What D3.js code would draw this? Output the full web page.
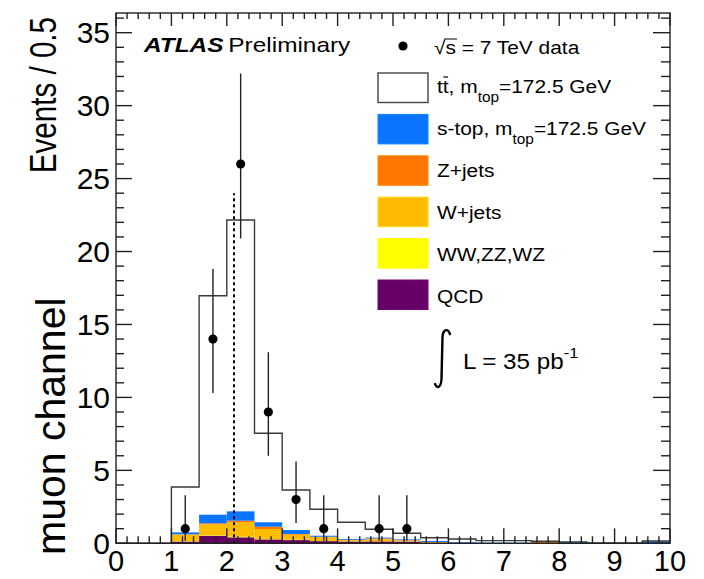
<!DOCTYPE html>
<html><head><meta charset="utf-8">
<script src="https://cdn.jsdelivr.net/npm/d3@7"></script>
<style>html,body{margin:0;padding:0;background:#fff;} text{font-family:"Liberation Sans",Arial,Helvetica,sans-serif;fill:#000;}</style>
</head><body><svg id="c" width="704" height="579"></svg>
<script>
// ---- data ----
const binEdges = d3.range(0, 10.01, 0.5);          // 21 edges, 20 bins
const qcd   = [0,0,0.12,0.52,0.41,0.27,0.22,0.15,0.12,0.13,0.12,0.03,0.01,0.02,0.02,0,0,0,0,0];
const dib   = [0,0,0.02,0.04,0.04,0.03,0.02,0.01,0.01,0.01,0.01,0,0,0,0,0,0,0,0,0];
const wjets = [0,0,0.45,0.74,1.01,0.68,0.35,0.26,0.09,0.13,0.07,0.04,0.02,0,0,0,0,0,0,0];
const zjets = [0,0,0.03,0.07,0.09,0.16,0.05,0.03,0.02,0.07,0.02,0.02,0,0,0,0.13,0,0,0,0];
const stop  = [0,0,0.13,0.59,0.64,0.30,0.27,0.07,0.06,0.05,0.05,0.07,0.05,0.02,0.02,0,0.09,0,0,0.13];
const ttbar = [0,0,3.11,15.01,19.97,6.10,2.74,1.81,1.14,0.57,0.42,0.22,0.21,0.14,0.14,0.01,0.01,0.02,0.02,0.03];
const dataX  = [1.25,1.75,2.25,2.75,3.25,3.75,4.75,5.25];
const dataY  = [1,14,26,9,3,1,1,1];
const errLo  = [0.83,3.7,5.1,3.0,1.6,0.83,0.83,0.83];
const errHi  = [2.3,4.8,6.2,4.1,2.6,2.3,2.3,2.3];
const mtopLine = {x:2.13, top:24};
const xTicks = [0,1,2,3,4,5,6,7,8,9,10];
const yTicks = [0,5,10,15,20,25,30,35];
const seriesKeys = ["qcd","dib","wjets","zjets","stop","ttbar"];
const seriesColors = {qcd:"#660066", dib:"#ffff00", wjets:"#ffbb00", zjets:"#ff7700", stop:"#0a74ff", ttbar:"#ffffff"};

// ---- layout ----
const X0=116, X1=670, Y0=13, Y1=543.3;
const svg = d3.select("#c");
const x = d3.scaleLinear().domain([0,10]).range([X0,X1]);
const y = d3.scaleLinear().domain([0,36.35]).range([Y1,Y0]);

const table = d3.range(20).map(i => ({i, x0:binEdges[i], x1:binEdges[i+1],
  qcd:qcd[i], dib:dib[i], wjets:wjets[i], zjets:zjets[i], stop:stop[i], ttbar:ttbar[i]}));
const stacked = d3.stack().keys(seriesKeys)(table);

const plot = svg.append("g");
stacked.forEach(layer => {
  if (layer.key === "ttbar") return;
  plot.append("g").selectAll("rect").data(layer.filter(d => d[1]-d[0] > 0)).join("rect")
    .attr("x", d => x(d.data.x0)).attr("width", d => x(d.data.x1)-x(d.data.x0))
    .attr("y", d => y(d[1])).attr("height", d => y(d[0])-y(d[1]))
    .attr("fill", seriesColors[layer.key]);
});
// total outline (step)
const totals = table.map(d => seriesKeys.reduce((s,k)=>s+d[k],0));
const stepPts = table.map((d,i)=>[d.x0, totals[i]]).concat([[10, totals[19]]]);
plot.append("path").attr("d", d3.line().x(d=>x(d[0])).y(d=>y(d[1])).curve(d3.curveStepAfter)([[0,0]].concat(stepPts)))
  .attr("fill","none").attr("stroke","#3a3a3a").attr("stroke-width",1.4);

// dashed m_top line
plot.append("line").attr("x1",x(mtopLine.x)).attr("x2",x(mtopLine.x)).attr("y1",y(0)).attr("y2",y(mtopLine.top))
  .attr("stroke","#000").attr("stroke-width",2).attr("stroke-dasharray","3,3");

// data
const dg = plot.append("g");
dataX.forEach((dx,i)=>{
  dg.append("line").attr("x1",x(dx)).attr("x2",x(dx)).attr("y1",y(dataY[i]-errLo[i])).attr("y2",y(dataY[i]+errHi[i]))
    .attr("stroke","#222").attr("stroke-width",1.4);
});
dg.selectAll("circle").data(dataX).join("circle").attr("cx",d=>x(d)).attr("cy",(d,i)=>y(dataY[i])).attr("r",4.6).attr("fill","#000");

// ---- frame & ticks ----
const ax = svg.append("g").attr("stroke","#222").attr("stroke-width",1.4);
ax.append("rect").attr("x",X0).attr("y",Y0).attr("width",X1-X0).attr("height",Y1-Y0).attr("fill","none");
d3.range(0,10.001,0.2).forEach(v=>{
  const major = Math.abs(v-Math.round(v))<1e-6;
  ax.append("line").attr("x1",x(v)).attr("x2",x(v)).attr("y1",Y1).attr("y2",Y1-(major?15:7));
  ax.append("line").attr("x1",x(v)).attr("x2",x(v)).attr("y1",Y0).attr("y2",Y0+(major?13:6));
});
d3.range(0,36.001,1).forEach(v=>{
  const major = v%5===0;
  ax.append("line").attr("x1",X0).attr("x2",X0+(major?16:8)).attr("y1",y(v)).attr("y2",y(v));
  ax.append("line").attr("x1",X1).attr("x2",X1-(major?17:9)).attr("y1",y(v)).attr("y2",y(v));
});
const lab = svg.append("g").style("font-size","29px");
xTicks.forEach(v=>{
  lab.append("text").attr("x",x(v)).attr("y",571).attr("text-anchor","middle").text(v);
});
yTicks.forEach(v=>{
  lab.append("text").attr("x",110).attr("y",y(v)).attr("dy","0.36em").attr("text-anchor","end").style("font-size","30px").text(v);
});

// axis titles
svg.append("g").attr("transform",`translate(56,17) rotate(-90) scale(1.02,1.25)`)
  .append("text").attr("text-anchor","end").style("font-size","29px").text("Events / 0.5");
svg.append("g").attr("transform",`translate(65,555) rotate(-90)`)
  .append("text").attr("text-anchor","start").style("font-size","41px").text("muon channel");

// ---- annotations ----
function htext(x0,y0,size,sx){
  return svg.append("g").attr("transform",`translate(${x0},${y0}) scale(${sx},1)`)
    .append("text").style("font-size",size+"px");
}
const atl = htext(144,52,20,1.22);
atl.append("tspan").style("font-weight","bold").style("font-style","italic").text("ATLAS");
atl.append("tspan").attr("dx","4").text("Preliminary");

// legend
const LX=378, LW=50, LH=29.5, TX=437, S=1.1;
svg.append("circle").attr("cx",403).attr("cy",46).attr("r",4.6).attr("fill","#000");
const dtx = htext(TX-3,54,19,S).text("√s = 7 TeV data");
{ const n = dtx.node(); const a = n.getStartPositionOfChar(1), b = n.getEndPositionOfChar(1);
  d3.select(n.parentNode).append("line").attr("x1",a.x-1).attr("x2",b.x+1).attr("y1",-15).attr("y2",-15).attr("stroke","#000").attr("stroke-width",1); }
const legendRows = [
  {key:"ttbar", lab:["tt, m","top","=172.5 GeV"]},
  {key:"stop",  lab:["s-top, m","top","=172.5 GeV"]},
  {key:"zjets", lab:["Z+jets"]},
  {key:"wjets", lab:["W+jets"]},
  {key:"dib",   lab:["WW,ZZ,WZ"]},
  {key:"qcd",   lab:["QCD"]}
];
legendRows.forEach((r,i)=>{
  const top = 73 + i*41.4;
  svg.append("rect").attr("x",LX).attr("y",top).attr("width",LW).attr("height",LH)
    .attr("fill",seriesColors[r.key])
    .attr("stroke", r.key==="ttbar" ? "#444" : d3.color(seriesColors[r.key]).brighter(0.4))
    .attr("stroke-width", r.key==="ttbar"?1.4:1);
  const t = htext(TX, 93 + i*42, 19, S);
  t.append("tspan").text(r.lab[0]);
  if (r.lab.length>1){
    t.append("tspan").attr("dy",9).style("font-size","14px").text(r.lab[1]);
    t.append("tspan").attr("dy",-9).text(r.lab[2]);
  }
  if (r.key==="ttbar"){
    const n=t.node(); const a=n.getStartPositionOfChar(1), b=n.getEndPositionOfChar(1);
    d3.select(n.parentNode).append("line").attr("x1",a.x+0.5).attr("x2",b.x-0.5).attr("y1",-16).attr("y2",-16).attr("stroke","#000").attr("stroke-width",1.2);
  }
});
// luminosity: integral sign drawn as a path, text as text
svg.append("path").attr("d","M450,334 C448,328 443,329 442.5,337 L441.5,379 C441,388 437,389 435,384")
  .attr("fill","none").attr("stroke","#000").attr("stroke-width",2.4).attr("stroke-linecap","round");
const lt = htext(463,369,22,1.1);
lt.append("tspan").text("L = 35 pb");
lt.append("tspan").attr("dy",-11).style("font-size","15px").text("-1");
</script></body></html>
